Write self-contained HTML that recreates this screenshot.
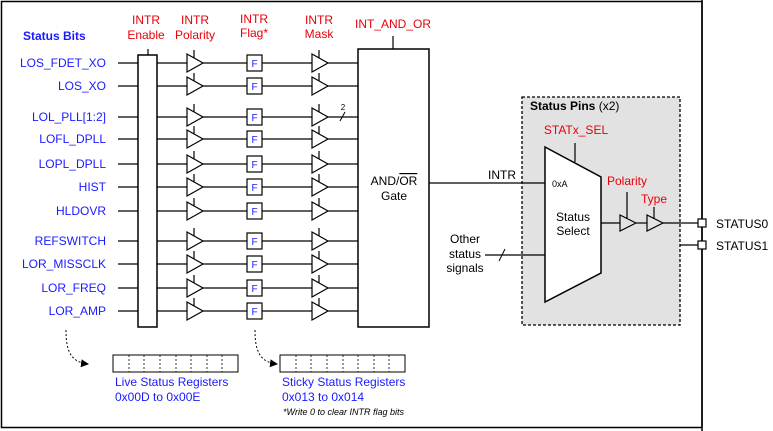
<!DOCTYPE html>
<html><head><meta charset="utf-8"><style>
html,body{margin:0;padding:0;background:#fff;}
svg{display:block;font-family:"Liberation Sans",Arial,sans-serif;}
</style></head><body>
<svg width="773" height="431" viewBox="0 0 773 431" xmlns="http://www.w3.org/2000/svg">
<defs>
<marker id="ah" markerWidth="8" markerHeight="8" refX="7" refY="4" orient="auto" markerUnits="userSpaceOnUse"><path d="M0,0 L8,4 L0,8 Z" fill="#000"/></marker>
</defs>
<rect x="1.5" y="1.5" width="700.5" height="426" fill="#fff" stroke="#000" stroke-width="1.5"/>
<line x1="702" y1="0" x2="702" y2="431" stroke="#000" stroke-width="1.5"/>

<rect x="522" y="97" width="158" height="228" fill="#e2e2e2" stroke="#000" stroke-width="1.3" stroke-dasharray="3,2"/>

<g fill="#e8000b" font-size="12" text-anchor="middle">
<text x="146" y="24">INTR</text><text x="146" y="39">Enable</text>
<text x="195" y="24">INTR</text><text x="195" y="39">Polarity</text>
<text x="254" y="23">INTR</text><text x="254" y="37">Flag*</text>
<text x="319" y="24">INTR</text><text x="319" y="38">Mask</text>
<text x="393" y="28">INT_AND_OR</text>
<text x="576" y="134">STATx_SEL</text>
<text x="627" y="185">Polarity</text>
<text x="654" y="203">Type</text>
</g>
<text x="23" y="40" fill="#1a1aff" font-size="12" font-weight="bold">Status Bits</text>

<g fill="#1a1aff" font-size="12" text-anchor="end">
<text x="106" y="67">LOS_FDET_XO</text>
<text x="106" y="90">LOS_XO</text>
<text x="106" y="121">LOL_PLL[1:2]</text>
<text x="106" y="143">LOFL_DPLL</text>
<text x="106" y="168">LOPL_DPLL</text>
<text x="106" y="191">HIST</text>
<text x="106" y="215">HLDOVR</text>
<text x="106" y="245">REFSWITCH</text>
<text x="106" y="268">LOR_MISSCLK</text>
<text x="106" y="292">LOR_FREQ</text>
<text x="106" y="315">LOR_AMP</text>
</g>

<g stroke="#000" stroke-width="1.2" fill="none">
<path d="M118,63H138M118,86H138M118,117H138M118,139H138M118,164H138M118,187H138M118,211H138M118,241H138M118,264H138M118,288H138M118,311H138"/>
<path d="M157,63H358M157,86H358M157,117H358M157,139H358M157,164H358M157,187H358M157,211H358M157,241H358M157,264H358M157,288H358M157,311H358"/>
<line x1="148" y1="49" x2="148" y2="55"/>
<line x1="393" y1="36" x2="393" y2="49"/>
</g>
<rect x="138" y="55" width="19" height="272" fill="#fff" stroke="#000" stroke-width="1.5"/>
<rect x="358" y="49" width="71" height="278" fill="#fff" stroke="#000" stroke-width="1.5"/>
<text x="394" y="185" font-size="12" text-anchor="middle">AND/<tspan text-decoration="overline">OR</tspan></text>
<text x="394" y="200" font-size="12" text-anchor="middle">Gate</text>

<line x1="340" y1="121" x2="345" y2="112" stroke="#000" stroke-width="1"/>
<text x="343" y="110" font-size="8" text-anchor="middle">2</text>

<g stroke="#000" stroke-width="1.2" fill="#fff">
<path d="M187,54 L203,63 L187,72 Z M194,50 V58 M312,54 L328,63 L312,72 Z M319,50 V58"/>
<path d="M187,77 L203,86 L187,95 Z M194,73 V81 M312,77 L328,86 L312,95 Z M319,73 V81"/>
<path d="M187,108 L203,117 L187,126 Z M194,104 V112 M312,108 L328,117 L312,126 Z M319,104 V112"/>
<path d="M187,130 L203,139 L187,148 Z M194,126 V134 M312,130 L328,139 L312,148 Z M319,126 V134"/>
<path d="M187,155 L203,164 L187,173 Z M194,151 V159 M312,155 L328,164 L312,173 Z M319,151 V159"/>
<path d="M187,178 L203,187 L187,196 Z M194,174 V182 M312,178 L328,187 L312,196 Z M319,174 V182"/>
<path d="M187,202 L203,211 L187,220 Z M194,198 V206 M312,202 L328,211 L312,220 Z M319,198 V206"/>
<path d="M187,232 L203,241 L187,250 Z M194,228 V236 M312,232 L328,241 L312,250 Z M319,228 V236"/>
<path d="M187,255 L203,264 L187,273 Z M194,251 V259 M312,255 L328,264 L312,273 Z M319,251 V259"/>
<path d="M187,279 L203,288 L187,297 Z M194,275 V283 M312,279 L328,288 L312,297 Z M319,275 V283"/>
<path d="M187,302 L203,311 L187,320 Z M194,298 V306 M312,302 L328,311 L312,320 Z M319,298 V306"/>
<rect x="247" y="55" width="15" height="16"/><rect x="247" y="78" width="15" height="16"/>
<rect x="247" y="109" width="15" height="16"/><rect x="247" y="131" width="15" height="16"/>
<rect x="247" y="156" width="15" height="16"/><rect x="247" y="179" width="15" height="16"/>
<rect x="247" y="203" width="15" height="16"/><rect x="247" y="233" width="15" height="16"/>
<rect x="247" y="256" width="15" height="16"/><rect x="247" y="280" width="15" height="16"/>
<rect x="247" y="303" width="15" height="16"/>
</g>
<g fill="#1a1aff" font-size="10" text-anchor="middle">
<text x="254.5" y="67">F</text><text x="254.5" y="90">F</text><text x="254.5" y="121">F</text>
<text x="254.5" y="143">F</text><text x="254.5" y="168">F</text><text x="254.5" y="191">F</text>
<text x="254.5" y="215">F</text><text x="254.5" y="245">F</text><text x="254.5" y="268">F</text>
<text x="254.5" y="292">F</text><text x="254.5" y="315">F</text>
</g>

<line x1="429" y1="183" x2="545" y2="183" stroke="#000" stroke-width="1.2"/>
<text x="502" y="179" font-size="12" text-anchor="middle">INTR</text>

<path d="M545,147 L601,177 L601,273 L545,302 Z" fill="#fff" stroke="#000" stroke-width="1.5"/>
<line x1="575" y1="143" x2="575" y2="162" stroke="#000" stroke-width="1.2"/>
<text x="552" y="187" font-size="9">0xA</text>
<text x="573" y="221" font-size="12" text-anchor="middle">Status</text>
<text x="573" y="235" font-size="12" text-anchor="middle">Select</text>
<line x1="485" y1="255" x2="545" y2="255" stroke="#000" stroke-width="1.2"/>
<line x1="499" y1="261" x2="505" y2="249" stroke="#000" stroke-width="1"/>
<g font-size="12" text-anchor="middle"><text x="465" y="243">Other</text><text x="465" y="258">status</text><text x="465" y="272">signals</text></g>
<text x="530" y="110" font-size="12"><tspan font-weight="bold">Status Pins</tspan> (x2)</text>

<g stroke="#000" stroke-width="1.2" fill="#e2e2e2">
<line x1="601" y1="223" x2="620" y2="223"/>
<path d="M620,215 L636,223 L620,231 Z"/><line x1="627" y1="192" x2="627" y2="219"/>
<line x1="636" y1="223" x2="647" y2="223"/>
<path d="M647,215 L663,223 L647,231 Z"/><line x1="654" y1="207" x2="654" y2="219"/>
<line x1="663" y1="223" x2="698" y2="223"/>
<line x1="680" y1="245" x2="698" y2="245"/>
<rect x="698" y="219" width="8" height="8" fill="#fff"/>
<rect x="698" y="241" width="8" height="8" fill="#fff"/>
</g>
<text x="716" y="228" font-size="12">STATUS0</text>
<text x="716" y="250" font-size="12">STATUS1</text>

<g stroke="#000" fill="#fff" stroke-width="1">
<rect x="113" y="355" width="125" height="17"/>
<rect x="280" y="355" width="125" height="17"/>
</g>
<g stroke="#000" stroke-width="0.8" stroke-dasharray="2,2">
<path d="M129,355V372M144,355V372M160,355V372M176,355V372M191,355V372M207,355V372M222,355V372"/>
<path d="M296,355V372M311,355V372M327,355V372M343,355V372M358,355V372M374,355V372M389,355V372"/>
</g>
<g fill="none" stroke="#000" stroke-width="1" stroke-dasharray="2,2">
<path d="M66,330 C66,350 70,362 88,364" marker-end="url(#ah)"/>
<path d="M255,330 C255,350 259,362 277,364" marker-end="url(#ah)"/>
</g>
<g fill="#1a1aff" font-size="12">
<text x="115" y="386">Live Status Registers</text>
<text x="115" y="401">0x00D to 0x00E</text>
<text x="282" y="386">Sticky Status Registers</text>
<text x="282" y="401">0x013 to 0x014</text>
</g>
<text x="283" y="415" font-size="9" font-style="italic">*Write 0 to clear INTR flag bits</text>
</svg>
</body></html>
